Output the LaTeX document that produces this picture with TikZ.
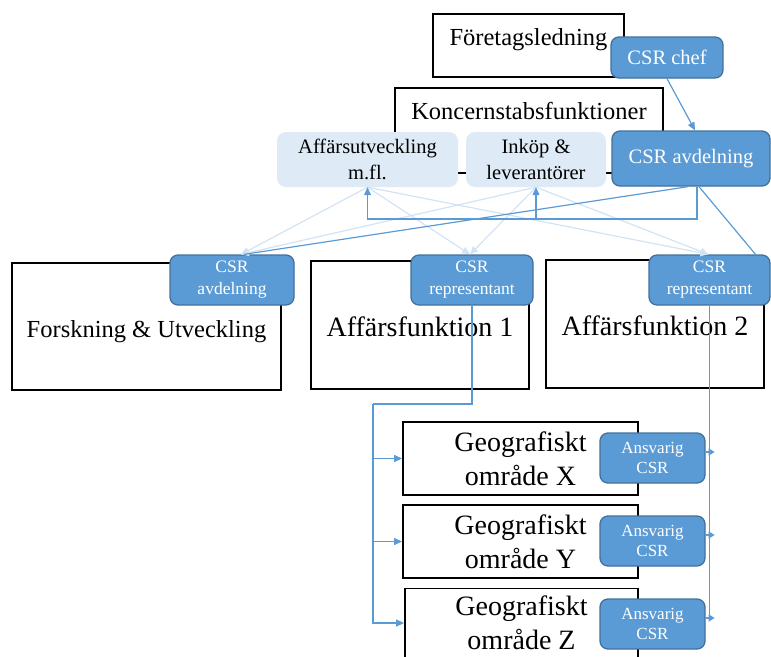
\documentclass[tikz,border=0pt]{standalone}
\usepackage{fontspec}
\setmainfont{Liberation Serif}
\usetikzlibrary{arrows.meta}
\definecolor{midblue}{HTML}{5B9BD5}
\definecolor{edgeblue}{HTML}{41719C}
\definecolor{lightfill}{HTML}{DEEBF7}
\definecolor{paleline}{HTML}{D2E3F4}
\begin{document}
\begin{tikzpicture}[x=1pt,y=-1pt,
 blk/.style={draw=black, line width=1.8pt, fill=white, inner sep=0pt, align=center},
 bluebox/.style={draw=edgeblue, line width=1.3pt, fill=midblue, rounded corners=8pt, text=white, inner sep=0pt, align=center},
 lightbox/.style={fill=lightfill, rounded corners=9pt, inner sep=0pt, align=center, font=\fontsize{20.5}{26}\selectfont},
 conn/.style={draw=midblue, line width=1.2pt},
 pale/.style={draw=paleline, line width=1.2pt},
 tip/.style={-{Triangle[length=8pt,width=7pt]}},
 smalltip/.style={-{Triangle[length=6pt,width=7pt]}},
]
\useasboundingbox (0,0) rectangle (771,656);

% top boxes
\node[blk, minimum width=191pt, minimum height=63pt, text height=10pt, text depth=10pt,
  font=\fontsize{24.5}{29}\selectfont] (fl) at (528.5,45.5) {Företagsledning};
\node[bluebox, minimum width=112pt, minimum height=41pt, font=\fontsize{20.5}{25}\selectfont] (chef) at (667,57.5) {CSR chef};

\node[blk, minimum width=268pt, minimum height=85pt, text height=5pt, text depth=28pt,
  font=\fontsize{24.5}{29}\selectfont] (konc) at (529,130.5) {Koncernstabsfunktioner};
\node[lightbox, minimum width=181pt, minimum height=55pt] (affars) at (367.5,159.5) {Affärsutveckling\\m.fl.};
\node[lightbox, minimum width=140pt, minimum height=55pt] (inkop) at (536,159.5) {Inköp \&\\leverantörer};
\node[bluebox, minimum width=158pt, minimum height=55pt, font=\fontsize{20.5}{25}\selectfont] (csravd) at (691,158.5) {CSR avdelning};

% middle boxes
\node[blk, minimum width=269pt, minimum height=127pt, text height=21pt, text depth=0pt,
  font=\fontsize{24.5}{29}\selectfont] (fou) at (146.5,326.5) {Forskning \& Utveckling};
\node[blk, minimum width=218pt, minimum height=128pt, text height=22pt, text depth=0pt,
  font=\fontsize{28}{34}\selectfont] (af1) at (420,325) {Affärsfunktion 1};
\node[blk, minimum width=218pt, minimum height=128pt, text height=22pt, text depth=0pt,
  font=\fontsize{28}{34}\selectfont] (af2) at (655,324) {Affärsfunktion 2};

\node[bluebox, minimum width=124pt, minimum height=50pt, font=\fontsize{17.5}{22}\selectfont] (smallcsr) at (232,280) {CSR\\avdelning};
\node[bluebox, minimum width=122pt, minimum height=50pt, font=\fontsize{17.5}{22}\selectfont] (rep1) at (472,280) {CSR\\representant};
\node[bluebox, minimum width=121pt, minimum height=50pt, font=\fontsize{17.5}{22}\selectfont] (rep2) at (709.5,280) {CSR\\representant};

% geographic boxes
\node[blk, minimum width=235pt, minimum height=73pt, font=\fontsize{28}{34}\selectfont] (geoX) at (520.5,458.5) {Geografiskt\\område X};
\node[blk, minimum width=235pt, minimum height=73pt, font=\fontsize{28}{34}\selectfont] (geoY) at (520.5,541.5) {Geografiskt\\område Y};
\node[blk, minimum width=233pt, minimum height=69pt, font=\fontsize{28}{34}\selectfont] (geoZ) at (521.5,623) {Geografiskt\\område Z};

\node[bluebox, minimum width=105pt, minimum height=50pt, font=\fontsize{17}{20}\selectfont] (ansX) at (652.5,458) {Ansvarig\\CSR};
\node[bluebox, minimum width=105pt, minimum height=50pt, font=\fontsize{17}{20}\selectfont] (ansY) at (652.5,541) {Ansvarig\\CSR};
\node[bluebox, minimum width=105pt, minimum height=50pt, font=\fontsize{17}{20}\selectfont] (ansZ) at (652.5,624) {Ansvarig\\CSR};

% pale connectors
\draw[pale, tip] (affars.south) -- ([xshift=9pt]smallcsr.north);
\draw[pale, tip] (affars.south) -- ([xshift=-2pt]rep1.north);
\draw[pale, tip] (affars.south) -- ([xshift=-1pt]rep2.north);
\draw[pale, tip] (inkop.south) -- ([xshift=9pt]smallcsr.north);
\draw[pale, tip] (inkop.south) -- ([xshift=-2pt]rep1.north);
\draw[pale, tip] (inkop.south) -- ([xshift=-1pt]rep2.north);

% blue connectors
\coordinate (busR) at (697,219);
\draw[conn, tip] (chef.south) -- ([xshift=4pt]csravd.north);
\draw[conn, tip] ([xshift=6pt]csravd.south) -- (busR) -| (affars.south);
\draw[conn, tip] (busR) -| (inkop.south);
\draw[conn] ([xshift=-3pt]csravd.south) -- ([xshift=12pt]smallcsr.north);
\draw[conn] ([xshift=8pt]csravd.south) -- ([xshift=46pt]rep2.north);

\coordinate (lbus) at (373,404);
\draw[conn] (rep1.south) |- (lbus);
\draw[conn, tip] (lbus) -- (lbus |- geoZ.west) -- (geoZ.west);
\draw[conn, tip] (lbus |- geoX.west) -- (geoX.west);
\draw[conn, tip] (lbus |- geoY.west) -- (geoY.west);

\coordinate (rend) at (709.5,620);
\draw[conn] (rep2.south) -- (rend);
\coordinate (tx) at ([xshift=9pt,yshift=6pt]ansX.east);
\coordinate (ty) at ([xshift=9pt,yshift=6pt]ansY.east);
\coordinate (tz) at ([xshift=9pt,yshift=6pt]ansZ.east);
\draw[conn, smalltip] ([yshift=6pt]ansX.east) -- (tx);
\draw[conn, smalltip] ([yshift=6pt]ansY.east) -- (ty);
\draw[conn, smalltip] ([yshift=6pt]ansZ.east) -- (tz);
\end{tikzpicture}
\end{document}
